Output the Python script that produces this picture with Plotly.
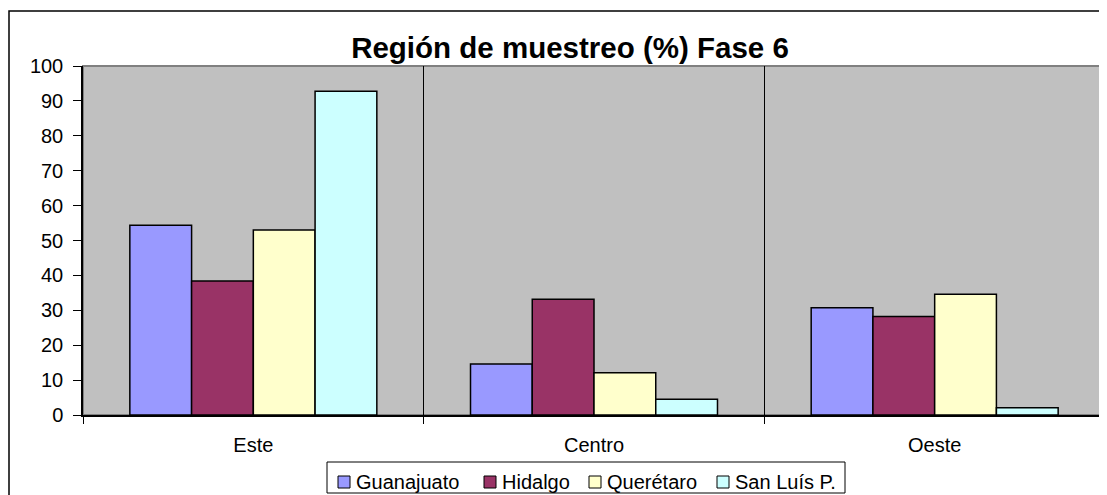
import plotly.graph_objects as go

categories = ["Este", "Centro", "Oeste"]
guanajuato = [54.4, 14.6, 30.7]
hidalgo = [38.4, 33.2, 28.2]
queretaro = [53.0, 12.1, 34.6]
san_luis = [92.8, 4.5, 2.1]

series_names = ["Guanajuato", "Hidalgo", "Querétaro", "San Luís P."]
series_values = [guanajuato, hidalgo, queretaro, san_luis]
series_colors = ["#9999FF", "#993366", "#FFFFCC", "#CCFFFF"]

FONT = "Liberation Sans, Arial, sans-serif"

fig = go.Figure()
for name, vals, col in zip(series_names, series_values, series_colors):
    fig.add_trace(go.Bar(
        x=categories, y=vals, name=name,
        marker=dict(color=col, line=dict(color="black", width=1.5)),
        showlegend=False,
    ))

# page has an 8px body margin; figure coords = screen coords - 8
OFF = 8
W, H = 1099, 487
L, R, T, B = 75, 2, 58, 80
pw, ph = W - L - R, H - T - B

def sx(x):  # screen px -> paper x
    return (x - OFF - L) / pw

def sy(y):  # screen px -> paper y
    return (H - B - (y - OFF)) / ph

shapes = [
    dict(type="rect", xref="paper", yref="paper",
         x0=0, x1=1, y0=0, y1=1,
         line=dict(color="#808080", width=2), layer="below"),
    dict(type="rect", xref="paper", yref="paper",
         x0=sx(9), x1=sx(1130), y0=sy(530), y1=sy(11),
         line=dict(color="black", width=1.5), fillcolor="rgba(0,0,0,0)"),
    # legend box
    dict(type="rect", xref="paper", yref="paper",
         x0=sx(327), x1=sx(845), y0=sy(493), y1=sy(462),
         line=dict(color="black", width=1), fillcolor="white"),
]
annotations = []
legend_text_x = [356, 502, 607, 735]
for name, col, tx in zip(series_names, series_colors, legend_text_x):
    shapes.append(dict(type="rect", xref="paper", yref="paper",
                       x0=sx(tx - 18), x1=sx(tx - 6), y0=sy(488), y1=sy(476),
                       line=dict(color="black", width=1), fillcolor=col))
    annotations.append(dict(text=name, xref="paper", yref="paper",
                            x=sx(tx - 2), y=sy(482), xanchor="left", yanchor="middle",
                            showarrow=False,
                            font=dict(family=FONT, size=20, color="black")))

fig.update_layout(
    width=W, height=H,
    margin=dict(l=L, r=R, t=T, b=B, autoexpand=False),
    paper_bgcolor="white",
    plot_bgcolor="#C0C0C0",
    barmode="group",
    bargap=0.275,
    bargroupgap=0,
    font=dict(family=FONT, size=20, color="black"),
    title=dict(
        text="<b>Región de muestreo (%) Fase 6</b>",
        font=dict(family=FONT, size=29.5, color="black"),
        x=(570 - OFF) / W, xanchor="center", xref="container",
        y=1 - (48 - OFF) / H, yanchor="middle", yref="container",
    ),
    showlegend=False,
    shapes=shapes,
    annotations=annotations,
)

fig.update_xaxes(
    showline=True, linecolor="black", linewidth=1.5,
    ticks="outside", tickson="boundaries", ticklen=7, tickcolor="black",
    showgrid=True, gridcolor="black", gridwidth=1,
    tickfont=dict(family=FONT, size=20, color="black"),
    ticklabelstandoff=11,
    zeroline=False, automargin=False,
)
fig.update_yaxes(
    range=[0, 100], dtick=10, tick0=0,
    showline=True, linecolor="black", linewidth=1.5,
    ticks="outside", ticklen=8, tickcolor="black",
    showgrid=False, zeroline=False,
    tickfont=dict(family=FONT, size=20, color="black"),
    ticklabelstandoff=6, automargin=False,
)

fig.write_html("out.html")
